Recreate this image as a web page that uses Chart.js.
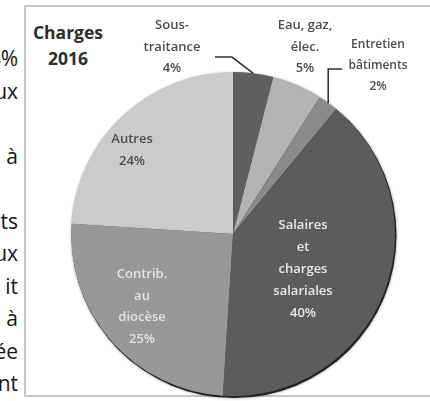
<!DOCTYPE html>
<html>
<head>
<meta charset="utf-8">
<script src="https://cdn.jsdelivr.net/npm/chart.js@4"></script>
<style>
  html, body { margin: 0; padding: 0; background: #fff; overflow: hidden; }
  body { width: 430px; height: 401px; position: relative; font-family: "Open Sans", Lato, sans-serif; }
  #docText {
    position: absolute; left: -40px; top: 42px; width: 58px;
    text-align: right; font-size: 21px; line-height: 32.5px; color: #151515;
  }
  #frame {
    position: absolute; left: 24px; top: 5px; width: 430px; height: 392px;
    border: 2px solid #c6c6c6; box-sizing: border-box;
  }
  #title {
    position: absolute; left: 18px; top: 19px; width: 100px;
    text-align: center; font-weight: bold; font-size: 17.5px; line-height: 26px; color: #2e2e2e;
  }
  #wrap { position: absolute; left: 0; top: 0; width: 430px; height: 401px; }
</style>
</head>
<body>
<div id="docText">4%<br>ux<br>&nbsp;<br>à<br>&nbsp;<br>ts<br>ux<br>it<br>à<br>ée<br>nt</div>
<div id="frame"></div>
<div id="title">Charges<br>2016</div>
<div id="wrap"><canvas id="pie"></canvas></div>

<script>
// Data
const categories = ["Sous-\ntraitance", "Eau, gaz,\nélec.", "Entretien\nbâtiments",
                    "Salaires\net\ncharges\nsalariales", "Contrib.\nau\ndiocèse", "Autres"];
const shares = [4, 5, 2, 40, 25, 24];
const sliceColors = ["#5f5f5f", "#b3b3b3", "#8b8b8b", "#5c5c5c", "#989898", "#cbcbcb"];

// where each label sits, relative to pie centre (px)
const labelPlace = [
    { dx: -61, dy: -187, size: 13, lh: 21.5, color: "#4d4d4d", leader: [[-18, -177], [-1, -177]] },
    { dx: 72,  dy: -187, size: 13, lh: 21.5, color: "#4d4d4d" },
    { dx: 145, dy: -168, size: 12, lh: 21, color: "#4d4d4d", leader: [[109, -165]], elbow: true },
    { dx: 70,  dy: 35,   size: 13, lh: 22, color: "#e8e8e8" },
    { dx: -91, dy: 73,   size: 13, lh: 21.5, color: "#e2e2e2" },
    { dx: -101, dy: -84, size: 13, lh: 22, color: "#4d4d4d" }
];

// soft dark rim under the pie
const rimShadow = {
    id: "rimShadow",
    beforeDatasetsDraw(chart) {
        const arc = chart.getDatasetMeta(0).data[0];
        if (!arc) return;
        const ctx = chart.ctx;
        ctx.save();
        ctx.beginPath();
        ctx.arc(arc.x + 1, arc.y + 1.5, arc.outerRadius + 0.5, 0, Math.PI * 2);
        ctx.fillStyle = "#222";
        ctx.shadowColor = "rgba(0,0,0,0.45)";
        ctx.shadowBlur = 3;
        ctx.fill();
        ctx.restore();
    }
};

const sliceLabels = {
    id: "sliceLabels",
    afterDatasetsDraw(chart) {
        const ctx = chart.ctx;
        const arcs = chart.getDatasetMeta(0).data;
        ctx.save();
        ctx.textAlign = "center";
        ctx.textBaseline = "middle";
        arcs.forEach((arc, i) => {
            const p = labelPlace[i];
            const lines = (categories[i] + "\n" + shares[i] + "%").split("\n");
            ctx.font = "600 " + p.size + "px 'Open Sans', Lato, sans-serif";
            ctx.fillStyle = p.color;
            const cx = arc.x + p.dx;
            const top = arc.y + p.dy - (lines.length - 1) * p.lh / 2;
            lines.forEach((t, k) => ctx.fillText(t, cx, top + k * p.lh));

            if (p.leader) {
                const mid = (arc.startAngle + arc.endAngle) / 2;
                const ex = arc.x + Math.cos(mid) * arc.outerRadius;
                const ey = arc.y + Math.sin(mid) * arc.outerRadius;
                ctx.beginPath();
                ctx.strokeStyle = "#333";
                ctx.lineWidth = 1.6;
                ctx.moveTo(arc.x + p.leader[0][0], arc.y + p.leader[0][1]);
                if (p.elbow) {
                    ctx.lineTo(ex, arc.y + p.leader[0][1]);
                } else {
                    p.leader.slice(1).forEach(q => ctx.lineTo(arc.x + q[0], arc.y + q[1]));
                }
                ctx.lineTo(ex, ey);
                ctx.stroke();
            }
        });
        ctx.restore();
    }
};

new Chart(document.getElementById("pie"), {
    type: "pie",
    data: {
        labels: categories,
        datasets: [{
            data: shares,
            backgroundColor: sliceColors,
            borderWidth: 0,
            hoverOffset: 0
        }]
    },
    options: {
        responsive: true,
        maintainAspectRatio: false,
        animation: false,
        layout: { padding: { left: 71, top: 72, right: 35, bottom: 5 } },
        plugins: {
            legend: { display: false },
            tooltip: { enabled: false }
        }
    },
    plugins: [rimShadow, sliceLabels]
});
</script>
</body>
</html>
